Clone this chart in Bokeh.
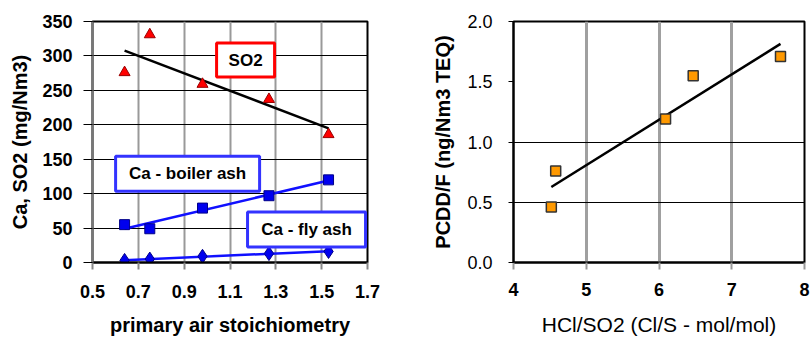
import numpy as np
from bokeh.plotting import figure
from bokeh.layouts import row
from bokeh.models import FixedTicker
from bokeh.core.properties import value
from bokeh.embed import file_html
from bokeh.resources import INLINE

# ---------------- data: left chart ----------------
air_stoich = [0.64, 0.75, 0.98, 1.27, 1.53]
so2 = [276, 331, 259, 237, 186]
ca_boiler_ash = [55, 49, 79, 97, 120]
ca_fly_ash = [3, 5, 9, 13, 16]
left_x_ticks = [0.5, 0.7, 0.9, 1.1, 1.3, 1.5, 1.7]
left_x_labels = ["0.5", "0.7", "0.9", "1.1", "1.3", "1.5", "1.7"]
left_y_ticks = [0, 50, 100, 150, 200, 250, 300, 350]
left_y_labels = ["0", "50", "100", "150", "200", "250", "300", "350"]
label_texts = ["SO2", "Ca - boiler ash", "Ca - fly ash"]
label_x = [1.168, 0.915, 1.434]
label_y = [294, 129, 48]

# ---------------- data: right chart ----------------
hcl_so2 = [4.52, 4.58, 6.09, 6.47, 7.67]
pcdd_f = [0.46, 0.76, 1.19, 1.55, 1.71]
right_x_ticks = [4, 5, 6, 7, 8]
right_x_labels = ["4", "5", "6", "7", "8"]
right_y_ticks = [0.0, 0.5, 1.0, 1.5, 2.0]
right_y_labels = ["0.0", "0.5", "1.0", "1.5", "2.0"]
right_hgrid = [0.5, 1.0]

FONT = "Liberation Sans"


def trend(xs, ys):
    k, b = np.polyfit(xs, ys, 1)
    x0, x1 = min(xs), max(xs)
    return [x0, x1], [k * x0 + b, k * x1 + b]


# ================= left figure =================
p1 = figure(width=405, height=341, x_range=(0.5, 1.7), y_range=(0, 350),
            output_backend="svg", toolbar_location=None,
            min_border_left=92, min_border_right=38,
            min_border_top=21, min_border_bottom=78)
p1.background_fill_color = "white"
p1.border_fill_color = "white"
p1.outline_line_color = "black"
p1.outline_line_width = 2

p1.xaxis.ticker = FixedTicker(ticks=left_x_ticks)
p1.yaxis.ticker = FixedTicker(ticks=left_y_ticks)
p1.xaxis.major_label_overrides = dict(zip(left_x_ticks, left_x_labels))
p1.yaxis.major_label_overrides = dict(zip(left_y_ticks, left_y_labels))
for ax in (p1.xaxis[0], p1.yaxis[0]):
    ax.major_label_text_font = FONT
    ax.major_label_text_font_size = "18px"
    ax.major_label_text_font_style = "bold"
    ax.major_label_text_color = "black"
    ax.axis_label_text_font = FONT
    ax.axis_label_text_font_size = "20px"
    ax.axis_label_text_font_style = "bold"
    ax.axis_label_text_color = "black"
    ax.minor_tick_line_color = None
    ax.major_tick_in = 0
p1.xaxis.major_tick_out = 7
p1.yaxis.major_tick_out = 9
p1.xaxis.axis_line_color = "black"
p1.xaxis.axis_line_width = 2
p1.xaxis.major_tick_line_color = "#888888"
p1.xaxis.major_tick_line_width = 2
p1.yaxis.axis_line_color = "#777777"
p1.yaxis.axis_line_width = 2
p1.yaxis.major_tick_line_color = "black"
p1.xaxis.major_label_standoff = 15
p1.yaxis.major_label_standoff = 11
p1.xaxis.axis_label = "primary air stoichiometry"
p1.yaxis.axis_label = "Ca, SO2 (mg/Nm3)"
p1.xaxis.axis_label_standoff = 13
p1.yaxis.axis_label_standoff = 8

p1.xgrid.grid_line_color = "#999999"
p1.xgrid.grid_line_width = 2
p1.ygrid.grid_line_color = "black"
p1.ygrid.grid_line_width = 1

# trend lines
tx, ty = trend(air_stoich, so2)
p1.line(tx, ty, line_color="black", line_width=2.5)
tx, ty = trend(air_stoich, ca_boiler_ash)
p1.line(tx, ty, line_color="#1010ff", line_width=2.5)
tx, ty = trend(air_stoich, ca_fly_ash)
p1.line(tx, ty, line_color="#1010ff", line_width=2.5)

# markers
p1.scatter(air_stoich, so2, marker="triangle", size=11,
           fill_color="#ff0000", line_color="#990000", line_width=1)
p1.scatter(air_stoich, ca_boiler_ash, marker="square", size=10,
           fill_color="#0000ee", line_color="#000088", line_width=1)
p1.scatter(air_stoich, ca_fly_ash, marker="diamond", size=14,
           fill_color="#0000ee", line_color="#000088", line_width=1)

# label boxes
box_w = [58, 144, 118]
box_h = [34, 35, 35]
box_c = ["#ff0000", "#3333ff", "#3333ff"]
p1.rect(label_x, label_y, width=box_w, height=box_h,
        width_units="screen", height_units="screen",
        fill_color="white", line_color=box_c, line_width=3)
p1.text(label_x, label_y, text=label_texts, text_align="center",
        text_baseline="middle", text_font=value(FONT),
        text_font_size="17px", text_font_style="bold", text_color="black")

# ================= right figure =================
p2 = figure(width=405, height=341, x_range=(4, 8), y_range=(0, 2),
            output_backend="svg", toolbar_location=None,
            min_border_left=108, min_border_right=6,
            min_border_top=21, min_border_bottom=79)
p2.background_fill_color = "white"
p2.border_fill_color = "white"
p2.outline_line_color = "black"
p2.outline_line_width = 2

p2.xaxis.ticker = FixedTicker(ticks=right_x_ticks)
p2.yaxis.ticker = FixedTicker(ticks=right_y_ticks)
p2.xaxis.major_label_overrides = dict(zip(right_x_ticks, right_x_labels))
p2.yaxis.major_label_overrides = dict(zip(right_y_ticks, right_y_labels))
for ax in (p2.xaxis[0], p2.yaxis[0]):
    ax.major_label_text_font = FONT
    ax.major_label_text_font_size = "18px"
    ax.major_label_text_color = "black"
    ax.axis_label_text_font = FONT
    ax.axis_label_text_font_size = "20px"
    ax.axis_label_text_color = "black"
    ax.minor_tick_line_color = None
    ax.major_tick_in = 0
p2.xaxis.major_label_text_font_style = "bold"
p2.yaxis.major_label_text_font_style = "normal"
p2.xaxis.axis_label_text_font_style = "normal"
p2.xaxis.axis_label_text_font_size = "21px"
p2.yaxis.axis_label_text_font_style = "bold"
p2.xaxis.major_tick_out = 7
p2.yaxis.major_tick_out = 5
p2.xaxis.axis_line_color = "black"
p2.xaxis.axis_line_width = 2
p2.xaxis.major_tick_line_color = "#999999"
p2.xaxis.major_tick_line_width = 2
p2.yaxis.axis_line_color = "black"
p2.yaxis.axis_line_width = 2
p2.yaxis.major_tick_line_color = "black"
p2.xaxis.major_label_standoff = 13
p2.yaxis.major_label_standoff = 16
p2.xaxis.axis_label = "HCl/SO2 (Cl/S - mol/mol)"
p2.yaxis.axis_label = "PCDD/F (ng/Nm3 TEQ)"
p2.xaxis.axis_label_standoff = 14
p2.yaxis.axis_label_standoff = 10

p2.xgrid.grid_line_color = "#a0a0a0"
p2.xgrid.grid_line_width = 3
p2.ygrid.ticker = FixedTicker(ticks=right_hgrid)
p2.ygrid.grid_line_color = "black"
p2.ygrid.grid_line_width = 1

tx, ty = trend(hcl_so2, pcdd_f)
p2.line(tx, ty, line_color="black", line_width=2.5)
p2.scatter(hcl_so2, pcdd_f, marker="square", size=10,
           fill_color="#ff9900", line_color="#333333", line_width=1.5)

layout = row(p1, p2)
open("out.html", "w").write(file_html(layout, INLINE))
